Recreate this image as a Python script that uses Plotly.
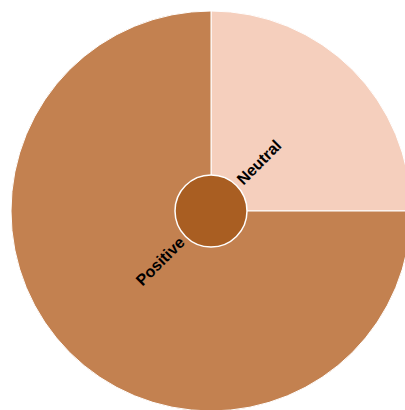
import math
import plotly.graph_objects as go

labels = ["Neutral", "Positive"]
values = [25, 75]
colors = ["#F5CFBD", "#C38150"]
center_color = "#A95E22"

FONT_SIZE = 16
R_INNER = 0.1  # paper units, just outside the centre disc

fig = go.Figure()
fig.add_trace(go.Pie(
    labels=labels, values=values,
    marker=dict(colors=colors, line=dict(color="white", width=1)),
    hole=0,
    textinfo="none",
    sort=False,
    direction="clockwise",
    showlegend=False,
    hoverinfo="label+percent",
))
fig.add_shape(type="circle", xref="paper", yref="paper",
              x0=0.5 - 0.09, x1=0.5 + 0.09, y0=0.5 - 0.09, y1=0.5 + 0.09,
              fillcolor=center_color, line=dict(color="white", width=1.5))

total = sum(values)
cum = 0
for lab, v in zip(labels, values):
    mid = (cum + v / 2) / total * 360.0
    cum += v
    est_w = len(lab) * FONT_SIZE * 0.5 / 400.0
    r = R_INNER + est_w / 2
    th = math.radians(mid)
    x = 0.5 + r * math.sin(th)
    y = 0.5 + r * math.cos(th)
    ang = mid - 90
    while ang > 90:
        ang -= 180
    while ang < -90:
        ang += 180
    fig.add_annotation(x=x, y=y, xref="paper", yref="paper", text=lab,
                       showarrow=False, textangle=ang,
                       xanchor="center", yanchor="middle",
                       font=dict(family="Arial", size=FONT_SIZE, color="black", weight="bold"))

fig.update_layout(
    width=422, height=422,
    margin=dict(l=11, r=11, t=11, b=11),
    paper_bgcolor="white", plot_bgcolor="white",
)
fig.write_html("out.html", post_script="document.body.style.overflow='hidden';document.body.style.margin='0';")
